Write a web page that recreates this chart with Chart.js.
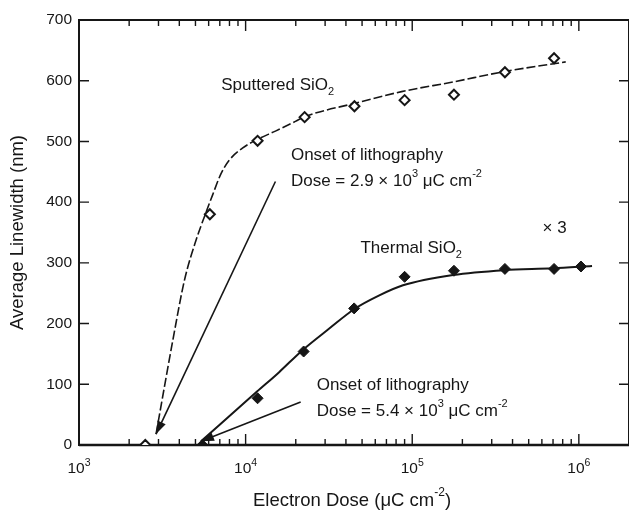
<!DOCTYPE html>
<html>
<head>
<meta charset="utf-8">
<script src="https://cdn.jsdelivr.net/npm/chart.js@4.4.1/dist/chart.umd.min.js"></script>
<style>
  html, body { margin: 0; padding: 0; background: #fff; overflow: hidden; }
  #wrap { width: 629px; height: 510px; }
  canvas { display: block; }
</style>
</head>
<body>
<div id="wrap"><canvas id="c" width="629" height="510"></canvas></div>
<script>
// Measured average linewidth (nm) against electron dose (µC cm^-2)
const sputteredDose  = [2.5e3, 6.1e3, 1.18e4, 2.26e4, 4.5e4, 9.0e4, 1.78e5, 3.6e5, 7.1e5];
const sputteredWidth = [0, 380, 501, 540, 558, 568, 577, 614, 637];
const thermalDose    = [5.5e3, 1.18e4, 2.23e4, 4.48e4, 9.0e4, 1.78e5, 3.6e5, 7.1e5, 1.03e6];
const thermalWidth   = [0, 77, 154, 225, 277, 287, 290, 290, 294];

// Trend curves drawn through each data set
const sputteredFitDose  = [2.9e3, 3.66e3, 4.3e3, 5.05e3, 5.73e3, 6.34e3, 7.12e3, 7.97e3, 9.57e3, 1.17e4, 1.51e4, 1.99e4, 2.23e4, 4.55e4, 8.63e4, 1.76e5, 3.57e5, 8.34e5];
const sputteredFitWidth = [18, 173, 272, 338, 380, 412, 447, 469, 489, 503, 517, 533, 540, 563, 582, 598, 615, 631];
const thermalFitDose    = [5.4e3, 1.17e4, 1.59e4, 2.17e4, 3.15e4, 4.5e4, 6.3e4, 8.8e4, 1.76e5, 3.57e5, 6.95e5, 1.2e6];
const thermalFitWidth   = [6, 88, 120, 155, 191, 224, 246, 263, 280, 288, 291, 295];

// Onset-of-lithography pointers (label end, then arrow tip at the onset dose)
const sputteredOnsetDose  = [1.51e4, 2.9e3];
const sputteredOnsetWidth = [434, 18];
const thermalOnsetDose    = [2.14e4, 5.4e3];
const thermalOnsetWidth   = [71, 6];

// Axis ticks
const decades          = [1e3, 1e4, 1e5, 1e6];
const decadeExponents  = ['3', '4', '5', '6'];
const minorMultipliers = [2, 3, 4, 5, 6, 7, 8, 9];
const widthTicks       = [100, 200, 300, 400, 500, 600];

const FAMILY = "'Liberation Sans', Arial, Helvetica, sans-serif";
const INK = '#161616';
const font = size => size + 'px ' + FAMILY;

const pairs = (xs, ys) => xs.map((v, i) => ({ x: v, y: ys[i] }));

// Text placed on the plot, anchored in data units
const notes = [
  { dose: 7.14e3, width: 585, parts: ['Sputtered SiO', { text: '2', kind: 'sub' }] },
  { dose: 1.87e4, width: 469, parts: ['Onset of lithography'] },
  { dose: 1.87e4, width: 427, parts: ['Dose = 2.9 \u00d7 10', { text: '3', kind: 'sup' }, ' \u03bcC cm', { text: '-2', kind: 'sup' }] },
  { dose: 4.89e4, width: 316, parts: ['Thermal SiO', { text: '2', kind: 'sub' }] },
  { dose: 6.05e5, width: 349, parts: ['\u00d7 3'] },
  { dose: 2.67e4, width: 91,  parts: ['Onset of lithography'] },
  { dose: 2.67e4, width: 47,  parts: ['Dose = 5.4 \u00d7 10', { text: '3', kind: 'sup' }, ' \u03bcC cm', { text: '-2', kind: 'sup' }] }
];

// Write a line made of normal, superscript and subscript pieces
function drawRich(ctx, pieces, x, y, size, small, raise, align) {
  const parts = pieces.map(p => {
    const kind = typeof p === 'string' ? 'n' : p.kind;
    const text = typeof p === 'string' ? p : p.text;
    const s = kind === 'n' ? size : small;
    ctx.font = font(s);
    return { text, kind, s, w: ctx.measureText(text).width };
  });
  const total = parts.reduce((a, p) => a + p.w, 0);
  let cx = align === 'center' ? x - total / 2 : x;
  ctx.textAlign = 'left';
  ctx.textBaseline = 'alphabetic';
  for (const p of parts) {
    ctx.font = font(p.s);
    const dy = p.kind === 'sup' ? -raise : p.kind === 'sub' ? size * 0.3 : 0;
    ctx.fillText(p.text, cx, y + dy);
    cx += p.w;
  }
}

const frameAndText = {
  id: 'frameAndText',
  beforeDatasetsDraw(chart) {
    const { ctx, chartArea: a, scales: { x, y } } = chart;
    ctx.save();
    ctx.strokeStyle = INK;
    ctx.fillStyle = INK;
    ctx.lineWidth = 2;
    ctx.strokeRect(a.left, a.top, a.right - a.left, a.bottom - a.top);
    // slightly heavier dose axis
    ctx.lineWidth = 2.5;
    ctx.beginPath();
    ctx.moveTo(a.left, a.bottom);
    ctx.lineTo(a.right, a.bottom);
    ctx.stroke();

    // inward ticks on all four sides
    ctx.lineWidth = 1.4;
    ctx.beginPath();
    for (const d of decades) {
      for (const m of [1, ...minorMultipliers]) {
        const v = d * m;
        if (v <= x.min || v >= x.max) continue;
        const px = x.getPixelForValue(v);
        const len = m === 1 ? 11 : 6;
        ctx.moveTo(px, a.bottom); ctx.lineTo(px, a.bottom - len);
        ctx.moveTo(px, a.top);    ctx.lineTo(px, a.top + len);
      }
    }
    for (const t of widthTicks) {
      const py = y.getPixelForValue(t);
      ctx.moveTo(a.left, py);  ctx.lineTo(a.left + 10, py);
      ctx.moveTo(a.right, py); ctx.lineTo(a.right - 10, py);
    }
    ctx.stroke();

    // decade labels 10^n under the dose axis
    decades.forEach((d, i) => {
      drawRich(ctx, ['10', { text: decadeExponents[i], kind: 'sup' }],
        x.getPixelForValue(d), a.bottom + 28, 15.5, 10.5, 7, 'center');
    });

    // dose axis title
    drawRich(ctx, ['Electron Dose (\u03bcC cm', { text: '-2', kind: 'sup' }, ')'],
      (a.left + a.right) / 2 - 2, 506, 18.5, 12, 10, 'center');
    ctx.restore();
  },
  afterDatasetsDraw(chart) {
    const { ctx, scales: { x, y } } = chart;
    ctx.save();
    ctx.fillStyle = INK;
    // arrowheads at the onset ends of the pointer lines
    chart.data.datasets.forEach((ds, i) => {
      if (!ds.arrowHead) return;
      const pts = chart.getDatasetMeta(i).data;
      const tip = pts[pts.length - 1], from = pts[pts.length - 2];
      const ang = Math.atan2(tip.y - from.y, tip.x - from.x);
      const L = 13, W = 4.5, c = Math.cos(ang), s = Math.sin(ang);
      ctx.beginPath();
      ctx.moveTo(tip.x, tip.y);
      ctx.lineTo(tip.x - L * c + W * s, tip.y - L * s - W * c);
      ctx.lineTo(tip.x - L * c - W * s, tip.y - L * s + W * c);
      ctx.closePath();
      ctx.fill();
    });
    for (const n of notes) {
      drawRich(ctx, n.parts, x.getPixelForValue(n.dose), y.getPixelForValue(n.width), 17, 11, 9, 'left');
    }
    ctx.restore();
  }
};

Chart.defaults.font.family = FAMILY;
Chart.defaults.color = INK;

new Chart(document.getElementById('c'), {
  type: 'line',
  data: {
    datasets: [
      {
        label: 'Thermal SiO2',
        data: pairs(thermalDose, thermalWidth),
        showLine: false,
        pointStyle: 'rectRot',
        pointRadius: 5.5,
        pointBorderWidth: 1,
        pointBackgroundColor: INK,
        pointBorderColor: INK
      },
      {
        label: 'Sputtered SiO2',
        data: pairs(sputteredDose, sputteredWidth),
        showLine: false,
        pointStyle: 'rectRot',
        pointRadius: 5,
        pointBorderWidth: 2,
        pointBackgroundColor: '#ffffff',
        pointBorderColor: INK
      },
      {
        label: 'Sputtered trend',
        data: pairs(sputteredFitDose, sputteredFitWidth),
        borderColor: INK,
        borderWidth: 1.6,
        borderDash: [9, 3],
        pointRadius: 0,
        cubicInterpolationMode: 'monotone'
      },
      {
        label: 'Thermal trend',
        data: pairs(thermalFitDose, thermalFitWidth),
        borderColor: INK,
        borderWidth: 2,
        pointRadius: 0,
        cubicInterpolationMode: 'monotone'
      },
      {
        label: 'Sputtered onset',
        data: pairs(sputteredOnsetDose, sputteredOnsetWidth),
        borderColor: INK,
        borderWidth: 1.6,
        pointRadius: 0,
        arrowHead: true
      },
      {
        label: 'Thermal onset',
        data: pairs(thermalOnsetDose, thermalOnsetWidth),
        borderColor: INK,
        borderWidth: 1.6,
        pointRadius: 0,
        arrowHead: true
      }
    ]
  },
  options: {
    responsive: false,
    animation: false,
    events: [],
    layout: { autoPadding: false, padding: { left: 0, right: -3, top: 20, bottom: 0 } },
    plugins: { legend: { display: false }, tooltip: { enabled: false } },
    scales: {
      x: {
        type: 'logarithmic',
        min: 1e3,
        max: 2e6,
        grid: { display: false },
        border: { display: false },
        ticks: { display: false },
        afterFit: s => { s.height = 65; }
      },
      y: {
        min: 0,
        max: 700,
        grid: { display: false, drawTicks: false },
        border: { display: false },
        ticks: { stepSize: 100, padding: 7, color: INK, font: { size: 15.5 } },
        title: {
          display: true,
          text: 'Average Linewidth (nm)',
          color: INK,
          font: { size: 18.5 },
          padding: { top: 7, bottom: 0 }
        },
        afterFit: s => { s.width = 79; }
      }
    }
  },
  plugins: [frameAndText]
});
</script>
</body>
</html>
